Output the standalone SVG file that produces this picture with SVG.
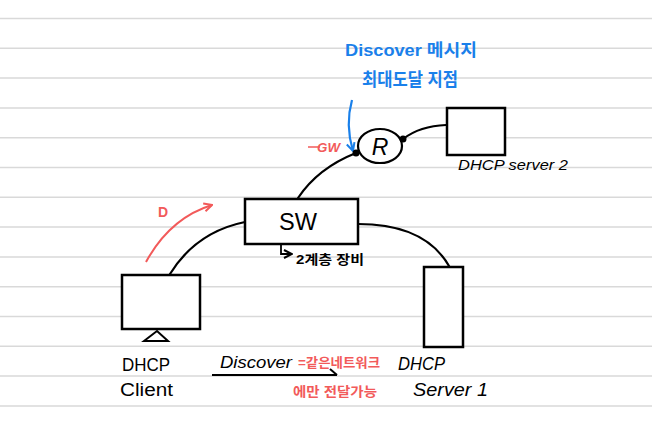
<svg xmlns="http://www.w3.org/2000/svg" width="652" height="427" viewBox="0 0 652 427">
<defs>
<style>
.rule{stroke:#d9d9d9;stroke-width:1.5}
.box{fill:#fff;stroke:#000;stroke-width:2.5}
.wire{fill:none;stroke:#000;stroke-width:2.2;stroke-linecap:round}
.t{font-family:"Liberation Sans","Noto Sans CJK KR",sans-serif;fill:#000}
.red{fill:#f25a5a;font-weight:bold}
.blue{fill:#1a80ea;font-weight:bold}
</style>
<marker id="open" viewBox="0 0 10 10" refX="9" refY="5" markerWidth="10" markerHeight="10" markerUnits="userSpaceOnUse" orient="auto">
<path d="M1,1 L9,5 L1,9" fill="none" stroke="context-stroke" stroke-width="2"/>
</marker>
</defs>
<rect width="652" height="427" fill="#fff"/>
<g id="rules">
<line class="rule" x1="0" x2="652" y1="18.5" y2="18.5"/>
<line class="rule" x1="0" x2="652" y1="48.3" y2="48.3"/>
<line class="rule" x1="0" x2="652" y1="78.1" y2="78.1"/>
<line class="rule" x1="0" x2="652" y1="107.9" y2="107.9"/>
<line class="rule" x1="0" x2="652" y1="137.7" y2="137.7"/>
<line class="rule" x1="0" x2="652" y1="167.5" y2="167.5"/>
<line class="rule" x1="0" x2="652" y1="197.3" y2="197.3"/>
<line class="rule" x1="0" x2="652" y1="227.1" y2="227.1"/>
<line class="rule" x1="0" x2="652" y1="256.9" y2="256.9"/>
<line class="rule" x1="0" x2="652" y1="286.7" y2="286.7"/>
<line class="rule" x1="0" x2="652" y1="316.5" y2="316.5"/>
<line class="rule" x1="0" x2="652" y1="346.3" y2="346.3"/>
<line class="rule" x1="0" x2="652" y1="376.1" y2="376.1"/>
<line class="rule" x1="0" x2="652" y1="405.9" y2="405.9"/>
</g>
<g id="connectors">
<path class="wire" d="M298,198 Q318,168 356,153"/>
<path class="wire" d="M403,139 Q420,126 446,125"/>
<path class="wire" d="M245,222 Q196,232 170,274"/>
<path class="wire" d="M358,224 Q425,224 449,266"/>
<path d="M281,245 L281,254 L292,254" fill="none" stroke="#000" stroke-width="1.8" marker-end="url(#open)"/>
<path d="M146,262 Q170,218 212,205" fill="none" stroke="#f25a5a" stroke-width="2" marker-end="url(#open)"/>
<path d="M352,100 Q345,125 353,151" fill="none" stroke="#1a80ea" stroke-width="2.2" marker-end="url(#open)"/>
<line x1="212" y1="375" x2="337" y2="375" stroke="#000" stroke-width="2.2"/>
<path d="M330,369 L337,375" fill="none" stroke="#000" stroke-width="2"/>
<line x1="308" y1="147" x2="320" y2="147" stroke="#f25a5a" stroke-width="1.5"/>
</g>
<g id="router">
<ellipse cx="380" cy="146" rx="22" ry="17" fill="#fff" stroke="#000" stroke-width="2.2"/>
<circle cx="356" cy="153" r="3.5" fill="#000"/>
<circle cx="403" cy="139" r="3.5" fill="#000"/>
<text class="t" x="380" y="155" font-size="23" font-style="italic" text-anchor="middle">R</text>
<text class="t red" x="317" y="152" font-size="13" font-style="italic" textLength="23" lengthAdjust="spacingAndGlyphs">GW</text>
</g>
<g id="server2">
<rect class="box" x="447" y="108" width="58" height="47"/>
<text class="t" x="458" y="170" font-size="14" font-style="italic" textLength="110" lengthAdjust="spacingAndGlyphs">DHCP server 2</text>
</g>
<g id="switch">
<rect class="box" x="245" y="199" width="113" height="45"/>
<text class="t" x="298" y="230" font-size="23" text-anchor="middle" textLength="38" lengthAdjust="spacingAndGlyphs">SW</text>
<text class="t" x="296" y="264" font-size="13" font-weight="bold" textLength="68" lengthAdjust="spacingAndGlyphs">2계층 장비</text>
</g>
<g id="client">
<rect class="box" x="122" y="275" width="78" height="54"/>
<path d="M144,341 L157,331 L168,341 Z" fill="#fff" stroke="#000" stroke-width="2"/>
<text class="t" x="122" y="371" font-size="18" textLength="48" lengthAdjust="spacingAndGlyphs">DHCP</text>
<text class="t" x="120" y="396" font-size="18" textLength="53" lengthAdjust="spacingAndGlyphs">Client</text>
<text class="t red" x="158" y="217" font-size="14">D</text>
</g>
<g id="server1">
<rect class="box" x="424" y="267" width="39" height="80"/>
<text class="t" x="398" y="370" font-size="18" font-style="italic" textLength="47" lengthAdjust="spacingAndGlyphs">DHCP</text>
<text class="t" x="413" y="396" font-size="18" font-style="italic" textLength="75" lengthAdjust="spacingAndGlyphs">Server 1</text>
</g>
<g id="notes">
<text class="t blue" x="345" y="56" font-size="17" textLength="132" lengthAdjust="spacingAndGlyphs">Discover 메시지</text>
<text class="t blue" x="362" y="86" font-size="18" textLength="96" lengthAdjust="spacingAndGlyphs">최대도달 지점</text>
<text class="t" x="220" y="368" font-size="17" font-style="italic" textLength="72" lengthAdjust="spacingAndGlyphs">Discover</text>
<text class="t red" x="298" y="367" font-size="13" textLength="82" lengthAdjust="spacingAndGlyphs">=같은네트워크</text>
<text class="t red" x="293" y="396" font-size="13" textLength="84" lengthAdjust="spacingAndGlyphs">에만 전달가능</text>
</g>
</svg>
